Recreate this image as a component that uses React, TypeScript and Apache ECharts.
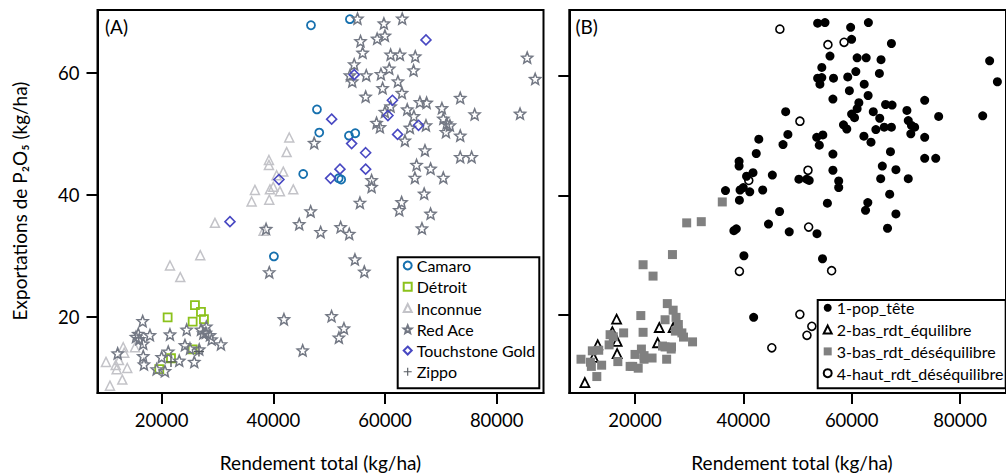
import React, { useEffect, useRef } from "react";
import * as echarts from "echarts";

// [rendement total (kg/ha), exportations P2O5 (kg/ha), groupe (1..4) du panneau B]
const camaro: number[][] = [
  [46740, 67.8, 4], [53710, 68.8, 1], [47810, 54.0, 1], [48220, 50.2, 1], [53540, 49.7, 1],
  [54670, 50.1, 1], [45350, 43.4, 1], [51700, 42.7, 1], [52150, 42.5, 1], [40100, 29.9, 1],
];
const detroit: number[][] = [
  [25960, 21.9, 3], [27040, 20.8, 3], [27570, 19.6, 3], [25550, 19.2, 3], [21070, 19.9, 3],
  [25550, 14.65, 3], [21670, 13.2, 3], [19570, 11.4, 3],
];
const inconnue: number[][] = [
  [42850, 49.4, 1], [42380, 47.0, 1], [39210, 45.7, 1], [39210, 44.9, 1], [41780, 43.8, 1],
  [40590, 43.2, 1], [36700, 40.8, 1], [39390, 40.9, 1], [39980, 41.3, 1], [41180, 40.6, 1],
  [43570, 40.9, 1], [36110, 38.9, 3], [39270, 39.2, 1], [38250, 34.1, 1], [29540, 35.4, 3],
  [26910, 30.1, 3], [21490, 28.4, 3], [23330, 26.5, 3], [13120, 15.0, 2], [15220, 15.0, 3],
  [13300, 14.1, 3], [10030, 12.6, 3], [12360, 12.9, 2], [13840, 11.6, 3], [11940, 11.4, 3],
  [11770, 12.1, 3], [12950, 9.7, 3], [10740, 8.7, 2],
];
const redAce: number[][] = [
  [55070, 68.9, 1], [59800, 68.1, 1], [63080, 68.9, 1], [55610, 65.2, 4], [58590, 65.6, 4],
  [59980, 66.1, 1], [55990, 63.3, 1], [61000, 63.0, 1], [62670, 63.0, 1], [65410, 62.7, 1],
  [85460, 62.5, 1], [54480, 61.4, 1], [53710, 59.6, 1], [54130, 58.6, 1], [56640, 59.6, 1],
  [59270, 59.8, 1], [60760, 60.7, 1], [65110, 60.4, 1], [62310, 58.6, 1], [59570, 57.5, 1],
  [63030, 56.7, 1], [86890, 59.0, 1], [56530, 56.1, 1], [66250, 55.2, 1], [67450, 55.1, 1],
  [73470, 55.9, 1], [70190, 54.2, 1], [76050, 53.2, 1], [84180, 53.3, 1], [63980, 54.0, 1],
  [61000, 54.5, 1], [59980, 53.6, 1], [65170, 52.9, 1], [58480, 51.8, 1], [59090, 51.1, 1],
  [70440, 52.5, 1], [71030, 51.7, 1], [71620, 51.4, 1], [70910, 50.3, 1], [67330, 51.4, 1],
  [64460, 51.0, 1], [47320, 48.5, 1], [63560, 48.9, 1], [73470, 49.7, 1], [67150, 47.3, 1],
  [73470, 46.2, 1], [75510, 46.2, 1], [65650, 44.9, 1], [68160, 44.3, 1], [65350, 42.8, 1],
  [70440, 42.8, 1], [57600, 42.4, 1], [57600, 41.3, 1], [67010, 40.2, 1], [55510, 38.7, 1],
  [62970, 38.8, 1], [62550, 37.5, 1], [68160, 36.9, 1], [46680, 37.3, 1], [44640, 35.2, 1],
  [38700, 34.4, 1], [48470, 33.9, 1], [52050, 34.7, 4], [53590, 33.6, 1], [66610, 34.5, 1],
  [54610, 29.4, 1], [56290, 27.4, 4], [39270, 27.3, 4], [41900, 19.6, 1], [50430, 20.1, 4],
  [52640, 18.1, 4], [51740, 16.6, 4], [45250, 14.5, 4],
  [16600, 19.3, 2], [15810, 17.2, 2], [17900, 17.0, 3], [15990, 16.35, 3], [16700, 15.6, 2],
  [15400, 16.7, 3], [21490, 17.1, 3], [24480, 17.9, 2], [27040, 17.9, 2], [28000, 18.4, 3],
  [27930, 17.4, 3], [27450, 17.3, 3], [28650, 17.0, 3], [28950, 16.3, 3], [30620, 15.5, 3],
  [24170, 15.35, 2], [25070, 14.8, 3], [26730, 14.65, 3], [25840, 12.6, 3], [23150, 12.8, 3],
  [21180, 14.3, 3], [20000, 13.4, 3], [19100, 11.4, 3], [20590, 11.1, 3], [16700, 13.55, 2],
  [16830, 12.2, 3], [12120, 14.0, 3],
];
const touchstone: number[][] = [
  [67330, 65.4, 1], [54480, 59.7, 1], [50440, 52.4, 4], [61320, 55.5, 1], [60520, 53.0, 1],
  [66000, 51.4, 1], [62250, 49.9, 1], [54020, 48.4, 1], [56530, 46.9, 1], [51930, 44.2, 4],
  [56530, 44.2, 1], [50250, 42.7, 1], [41000, 42.5, 4], [32230, 35.6, 3],
];
const zippo: number[][] = [
  [26680, 14.3, 3], [21670, 12.6, 3],
];

const varietyNames = ["Camaro", "Détroit", "Inconnue", "Red Ace", "Touchstone Gold", "Zippo"];
const varietyData = [camaro, detroit, inconnue, redAce, touchstone, zippo];
const groupNames = ["1-pop_tête", "2-bas_rdt_équilibre", "3-bas_rdt_déséquilibre", "4-haut_rdt_déséquilibre"];
const xTicks = [20000, 40000, 60000, 80000];
const yTicks = [20, 40, 60];

const FONT = 'Lato, "Noto Sans", sans-serif';
const STAR = "path://M50,0L62.9,32.2L97.6,34.5L70.9,56.8L79.4,90.5L50,72L20.6,90.5L29.1,56.8L2.4,34.5L37.1,32.2Z";
const PLUS = "path://M43,0H57V43H100V57H57V100H43V57H0V43H43Z";

const varietyStyles: any[] = [
  { symbol: "circle", symbolSize: 8, itemStyle: { opacity: 1, color: "transparent", borderColor: "#1670ae", borderWidth: 1.8 } },
  { symbol: "rect", symbolSize: 8, itemStyle: { opacity: 1, color: "transparent", borderColor: "#8cc21c", borderWidth: 1.8 } },
  { symbol: "triangle", symbolSize: 9, itemStyle: { opacity: 1, color: "transparent", borderColor: "#c3c3c8", borderWidth: 1.5 } },
  { symbol: STAR, symbolSize: 11, itemStyle: { opacity: 1, color: "transparent", borderColor: "#737884", borderWidth: 1.5 } },
  { symbol: "diamond", symbolSize: 10, itemStyle: { opacity: 1, color: "transparent", borderColor: "#4848c2", borderWidth: 1.6 } },
  { symbol: PLUS, symbolSize: 10, itemStyle: { opacity: 1, color: "#555a60" } },
];
const groupStyles: any[] = [
  { symbol: "circle", symbolSize: 9, itemStyle: { opacity: 1, color: "#000" } },
  { symbol: "triangle", symbolSize: 9, itemStyle: { opacity: 1, color: "transparent", borderColor: "#000", borderWidth: 1.8 } },
  { symbol: "rect", symbolSize: 9, itemStyle: { opacity: 1, color: "#808080" } },
  { symbol: "circle", symbolSize: 8, itemStyle: { opacity: 1, color: "transparent", borderColor: "#000", borderWidth: 1.6 } },
];

function axisX(grid: number, min: number, max: number) {
  return {
    type: "value", gridIndex: grid, min, max,
    splitLine: { show: false },
    axisLine: { show: true, onZero: false, lineStyle: { color: "#000", width: 2 } },
    axisTick: { show: true, length: 11, lineStyle: { color: "#000", width: 2 }, customValues: xTicks },
    axisLabel: { customValues: xTicks, formatter: (v: number) => String(v), margin: 17, fontSize: 18.5, color: "#000", fontFamily: FONT },
  };
}
function axisY(grid: number, min: number, max: number, labels: boolean) {
  return {
    type: "value", gridIndex: grid, min, max,
    splitLine: { show: false },
    axisLine: { show: true, onZero: false, lineStyle: { color: "#000", width: 2 } },
    axisTick: { show: true, length: 11, lineStyle: { color: "#000", width: 2 }, customValues: yTicks },
    axisLabel: { show: labels, customValues: yTicks, formatter: (v: number) => String(v), margin: 18, fontSize: 18.5, color: "#000", fontFamily: FONT },
  };
}

export default function App() {
  const ref = useRef<HTMLDivElement>(null);
  useEffect(() => {
    if (!ref.current) return;
    const chart = echarts.init(ref.current, null, { renderer: "svg" });
    const all = varietyData.flat();
    const seriesA = varietyNames.map((name, i) => ({
      type: "scatter", name, xAxisIndex: 0, yAxisIndex: 0,
      data: varietyData[i].map((p) => [p[0], p[1]]),
      ...varietyStyles[i],
    }));
    const seriesB = groupNames.map((name, i) => ({
      type: "scatter", name, xAxisIndex: 1, yAxisIndex: 1,
      data: all.filter((p) => p[2] === i + 1).map((p) => [p[0], p[1]]),
      ...groupStyles[i],
    }));
    const legendBase = {
      orient: "vertical", padding: 0, itemWidth: 8, itemHeight: 8, selectedMode: false, z: 10,
      textStyle: { fontSize: 16, fontFamily: FONT, color: "#000", lineHeight: 18 },
    };
    chart.setOption({
      animation: false,
      textStyle: { fontFamily: FONT },
      grid: [
        { left: 97.5, top: 10, width: 446, height: 383, show: true, borderColor: "#000", borderWidth: 2 },
        { left: 569.3, top: 10, width: 443, height: 383, show: true, borderColor: "#000", borderWidth: 2 },
      ],
      xAxis: [axisX(0, 8510, 88380), axisX(1, 7870, 88480)],
      yAxis: [axisY(0, 7.5, 70.3, true), axisY(1, 6.95, 71.0, false)],
      legend: [
        { ...legendBase, data: varietyNames, left: 402.7, top: 256.5, itemGap: 3.26 },
        { ...legendBase, data: groupNames, left: 822.7, top: 298.8, itemGap: 3.8 },
      ],
      graphic: {
        elements: [
          { type: "rect", z: 3, shape: { x: 397.7, y: 257.3, width: 141.6, height: 131 }, style: { fill: "#fff", stroke: "#000", lineWidth: 2 } },
          { type: "rect", z: 3, shape: { x: 817.7, y: 300, width: 188, height: 88.3 }, style: { fill: "#fff", stroke: "#000", lineWidth: 2 } },
          { type: "text", x: 105, y: 26, style: { text: "(A)", fontSize: 19, fontFamily: FONT, fill: "#000", align: "left", verticalAlign: "middle" } },
          { type: "text", x: 575.5, y: 26, style: { text: "(B)", fontSize: 19, fontFamily: FONT, fill: "#000", align: "left", verticalAlign: "middle" } },
          { type: "text", x: 320.5, y: 462, style: { text: "Rendement total (kg/ha)", fontSize: 19, fontFamily: FONT, fill: "#000", align: "center", verticalAlign: "middle" } },
          { type: "text", x: 792, y: 462, style: { text: "Rendement total (kg/ha)", fontSize: 19, fontFamily: FONT, fill: "#000", align: "center", verticalAlign: "middle" } },
          { type: "text", x: 19, y: 201, rotation: Math.PI / 2, style: { text: "Exportations de P₂O₅ (kg/ha)", fontSize: 19, fontFamily: FONT, fill: "#000", align: "center", verticalAlign: "middle" } },
        ],
      },
      series: [...seriesA, ...seriesB],
    });
    return () => chart.dispose();
  }, []);
  return <div ref={ref} style={{ position: "absolute", left: 0, top: 0, width: 1006, height: 473, background: "#fff" }} />;
}
